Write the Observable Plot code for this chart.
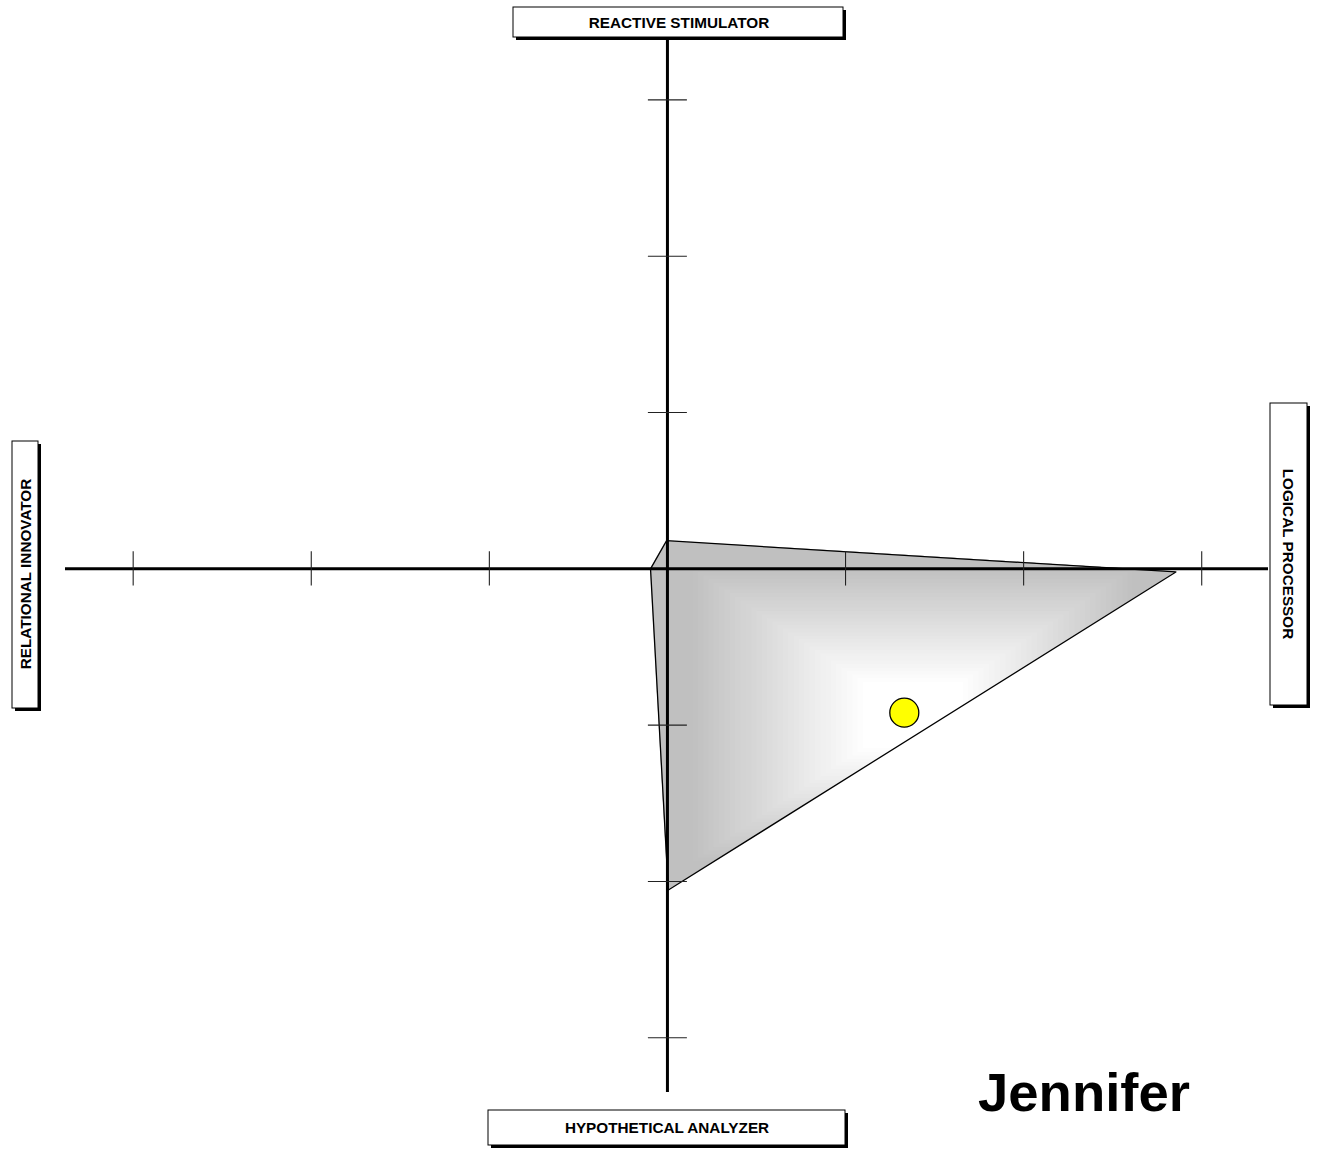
<!DOCTYPE html>
<html><head><meta charset="utf-8">
<script src="https://cdn.jsdelivr.net/npm/d3@7"></script>
<script src="https://cdn.jsdelivr.net/npm/@observablehq/plot@0.6"></script>
<style>html,body{margin:0;padding:0;background:#fff;overflow:hidden}</style>
</head><body><div id="chart"></div>
<script>
// ---- data ----
const quadrantLabels = ["REACTIVE STIMULATOR", "LOGICAL PROCESSOR", "HYPOTHETICAL ANALYZER", "RELATIONAL INNOVATOR"];
const polygonX = [-0.005, 2.855, 0.005, -0.095];
const polygonY = [0.18, -0.02, -2.055, 0];
const axisTicks = [-3, -2, -1, 1, 2, 3];
const centroidX = [1.33];
const centroidY = [-0.92];
const personName = "Jennifer";

const polygon = polygonX.map((x, i) => ({x, y: polygonY[i]}));
const centroid = centroidX.map((x, i) => ({x, y: centroidY[i]}));

const FONT = "'Liberation Sans', Arial, Helvetica, sans-serif";

// Rectangular "from centre" gradient fill, clipped to the polygon
function rectGradientFill(index, scales) {
  const sx = scales.x, sy = scales.y;
  const pts = polygon.map(d => [sx(d.x), sy(d.y)]);
  const xs = pts.map(p => p[0]), ys = pts.map(p => p[1]);
  const x0 = Math.min(...xs), x1 = Math.max(...xs), y0 = Math.min(...ys), y1 = Math.max(...ys);
  const cx = (x0 + x1) / 2, cy = (y0 + y1) / 2, hw = (x1 - x0) / 2, hh = (y1 - y0) / 2;
  const g = d3.create("svg:g");
  g.append("clipPath").attr("id", "polyClip")
    .append("polygon").attr("points", pts.map(p => p.join(",")).join(" "));
  const body = g.append("g").attr("clip-path", "url(#polyClip)");
  const t0 = 0.19, t1 = 0.85, N = 40;
  const shade = t => {
    const v = t >= t1 ? 192 : t <= t0 ? 255 : Math.round(255 - (t - t0) / (t1 - t0) * 63);
    return `rgb(${v},${v},${v})`;
  };
  for (let i = 0; i <= N; i++) {
    const t = 1 - i * (1 - t0) / N;
    body.append("rect")
      .attr("x", cx - t * hw).attr("y", cy - t * hh)
      .attr("width", 2 * t * hw).attr("height", 2 * t * hh)
      .attr("fill", shade(t));
  }
  // innermost white panel (extends past the edge as in the original)
  g.append("rect").attr("x", cx - t0 * hw).attr("y", cy - t0 * hh)
    .attr("width", 2 * t0 * hw).attr("height", 2 * t0 * hh).attr("fill", "#fff");
  return g.node();
}

function labelBoxes() {
  const boxes = [
    {label: quadrantLabels[0], x: 513, y: 7, w: 330, h: 30, tx: 679, ty: 28, rot: 0},
    {label: quadrantLabels[1], x: 1270, y: 403, w: 37, h: 302, tx: 1283, ty: 554, rot: 90},
    {label: quadrantLabels[2], x: 488, y: 1110, w: 357, h: 35, tx: 667, ty: 1133, rot: 0},
    {label: quadrantLabels[3], x: 12, y: 441, w: 26, h: 267, tx: 31, ty: 574, rot: -90}
  ];
  const g = d3.create("svg:g");
  for (const b of boxes) {
    g.append("rect").attr("x", b.x + 3).attr("y", b.y + 3).attr("width", b.w).attr("height", b.h).attr("fill", "#000");
    g.append("rect").attr("x", b.x).attr("y", b.y).attr("width", b.w).attr("height", b.h)
      .attr("fill", "#fff").attr("stroke", "#000").attr("stroke-width", 1);
    g.append("text").attr("transform", `translate(${b.tx},${b.ty}) rotate(${b.rot})`)
      .attr("text-anchor", "middle").attr("font-family", FONT).attr("font-weight", "bold")
      .attr("font-size", 15.3).attr("fill", "#000").text(b.label);
  }
  g.append("text").attr("x", 978).attr("y", 1111).attr("text-anchor", "start").attr("font-family", FONT)
    .attr("font-weight", "bold").attr("font-size", 54.5).attr("fill", "#000").text(personName);
  return g.node();
}

const chart = Plot.plot({
  width: 1317,
  height: 1150,
  marginLeft: 65,
  marginRight: 49,
  marginTop: 40,
  marginBottom: 58,
  x: {domain: [-3.38, 3.375], axis: null},
  y: {domain: [-3.35, 3.38], axis: null},
  style: {background: "#fff"},
  marks: [
    rectGradientFill,
    Plot.line(polygon, {x: "x", y: "y", curve: "linear-closed", fill: "none", stroke: "#000", strokeWidth: 1.3}),
    Plot.ruleY([0], {stroke: "#000", strokeWidth: 3}),
    Plot.ruleX([0], {stroke: "#000", strokeWidth: 3}),
    Plot.ruleX(axisTicks, {x: d => d, y1: -0.11, y2: 0.11, stroke: "#222", strokeWidth: 1.1}),
    Plot.ruleY(axisTicks, {y: d => d, x1: -0.107, x2: 0.112, stroke: "#222", strokeWidth: 1.1}),
    Plot.dot(centroid, {x: "x", y: "y", r: 14.5, fill: "#ffff00", stroke: "#000", strokeWidth: 1.3}),
    labelBoxes
  ]
});
document.getElementById("chart").appendChild(chart);
</script>
</body></html>
